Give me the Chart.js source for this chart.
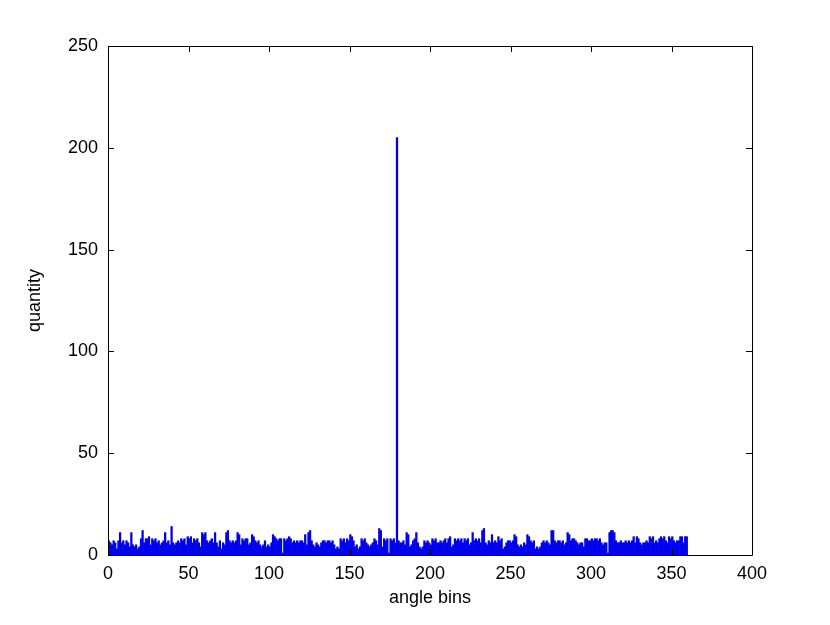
<!DOCTYPE html>
<html>
<head>
<meta charset="utf-8">
<script src="https://cdn.jsdelivr.net/npm/chart.js@4/dist/chart.umd.min.js"></script>
<style>
html,body{margin:0;padding:0;background:#fff;}
#wrap{width:830px;height:625px;position:relative;}
</style>
</head>
<body>
<div id="wrap"><canvas id="c" width="830" height="625"></canvas></div>
<script>
// Histogram counts for 360 one-degree angle bins (bin i covers [i, i+1))
const counts0 = [7,6,5,7,6,3,7,11,6,7,5,7,6,4,11,5,4,5,3,4,
                 8,12,6,8,8,9,5,8,7,8,6,7,5,6,7,11,6,7,5,14,
                 6,5,6,7,6,8,7,8,5,9,8,9,6,8,7,8,6,4,11,10];
const counts60 = [11,7,6,7,8,6,11,6,4,7,3,6,5,11,12,7,6,7,6,7,
                  11,10,5,8,7,8,8,5,6,10,9,7,6,7,5,4,5,7,4,5,
                  4,6,10,9,8,7,8,8,1,8,7,8,9,8,6,7,6,7,6,7];
const counts120 = [7,6,10,5,11,12,7,5,4,6,5,4,6,7,7,6,7,7,6,7,
                   5,3,4,3,8,7,8,6,8,7,10,9,7,4,5,3,4,8,7,8,
                   6,5,4,5,6,8,7,5,13,12,4,8,7,8,1,8,7,8,6,205];
const counts180 = [7,6,6,7,5,11,10,4,5,7,8,11,6,4,3,4,7,6,7,6,
                   5,8,7,8,6,6,7,6,7,8,6,8,9,4,5,8,7,8,7,8,
                   6,8,7,8,5,6,11,7,8,7,8,6,12,13,6,5,7,6,10,6];
const counts240 = [7,6,9,7,8,3,4,6,7,7,6,7,10,9,5,4,5,4,6,5,
                   10,9,7,6,7,3,4,3,4,6,7,6,7,6,5,12,12,7,6,7,
                   7,6,7,5,6,11,10,7,8,8,7,6,5,6,6,4,8,8,7,7];
const counts300 = [8,7,8,8,7,8,6,5,6,6,1,11,12,12,11,7,6,6,7,6,
                   6,7,6,7,6,7,9,6,9,8,6,5,6,6,7,6,9,8,9,6,
                   7,6,8,9,8,9,7,6,9,8,9,7,6,7,7,9,9,6,9,9];
const counts = [].concat(counts0, counts60, counts120, counts180, counts240, counts300);
const binCenters = counts.map((_, i) => i + 0.5);

const xTicks = [0, 50, 100, 150, 200, 250, 300, 350, 400];
const yTicks = [0, 50, 100, 150, 200, 250];
const xTitle = 'angle bins';
const yTitle = 'quantity';

const FONT = 'Liberation Sans, Arial, Helvetica, sans-serif';
Chart.defaults.color = '#000';
Chart.defaults.font.family = FONT;

const boxPlugin = {
  id: 'boxPlugin',
  afterDraw(chart) {
    const ctx = chart.ctx;
    const a = chart.chartArea;
    const xs = chart.scales.x, ys = chart.scales.y;
    ctx.save();
    ctx.strokeStyle = '#000';
    ctx.lineWidth = 1;
    ctx.beginPath();
    ctx.rect(Math.round(a.left) + 0.5, Math.round(a.top) + 0.5,
             Math.round(a.right - a.left), Math.round(a.bottom - a.top));
    ctx.stroke();
    const tl = 6;
    ctx.beginPath();
    xTicks.forEach(v => {
      const px = Math.round(xs.getPixelForValue(v)) + 0.5;
      ctx.moveTo(px, a.bottom); ctx.lineTo(px, a.bottom - tl);
      ctx.moveTo(px, a.top); ctx.lineTo(px, a.top + tl);
    });
    yTicks.forEach(v => {
      const py = Math.round(ys.getPixelForValue(v)) + 0.5;
      ctx.moveTo(a.left, py); ctx.lineTo(a.left + tl, py);
      ctx.moveTo(a.right, py); ctx.lineTo(a.right - tl, py);
    });
    ctx.stroke();
    // axis titles
    ctx.fillStyle = '#000';
    ctx.font = '18px ' + FONT;
    ctx.textAlign = 'center';
    ctx.textBaseline = 'middle';
    ctx.fillText(xTitle, (a.left + a.right) / 2, 598);
    ctx.translate(35, (a.top + a.bottom) / 2);
    ctx.rotate(-Math.PI / 2);
    ctx.fillText(yTitle, 0, 0);
    ctx.restore();
  }
};

new Chart(document.getElementById('c'), {
  type: 'bar',
  data: {
    datasets: [{
      data: binCenters.map((x, i) => ({x: x, y: counts[i]})),
      backgroundColor: '#0000ee',
      borderWidth: 0,
      barPercentage: 1,
      categoryPercentage: 1,
      grouped: false
    }]
  },
  options: {
    responsive: false,
    animation: false,
    devicePixelRatio: 1,
    layout: {padding: {left: 0, top: 46, right: 78, bottom: 0}},
    plugins: {legend: {display: false}, tooltip: {enabled: false}},
    scales: {
      x: {
        type: 'linear', min: 0, max: 400, offset: false,
        afterBuildTicks: s => { s.ticks = xTicks.map(v => ({value: v})); },
        afterFit: s => { s.height = 70; },
        grid: {display: false, drawTicks: false, offset: false},
        border: {display: false},
        ticks: {font: {size: 18}, padding: 8, maxRotation: 0, autoSkip: false}
      },
      y: {
        type: 'linear', min: 0, max: 250,
        afterBuildTicks: s => { s.ticks = yTicks.map(v => ({value: v})); },
        afterFit: s => { s.width = 108; },
        grid: {display: false, drawTicks: false},
        border: {display: false},
        ticks: {font: {size: 18}, padding: 10}
      }
    }
  },
  plugins: [boxPlugin]
});
</script>
</body>
</html>
